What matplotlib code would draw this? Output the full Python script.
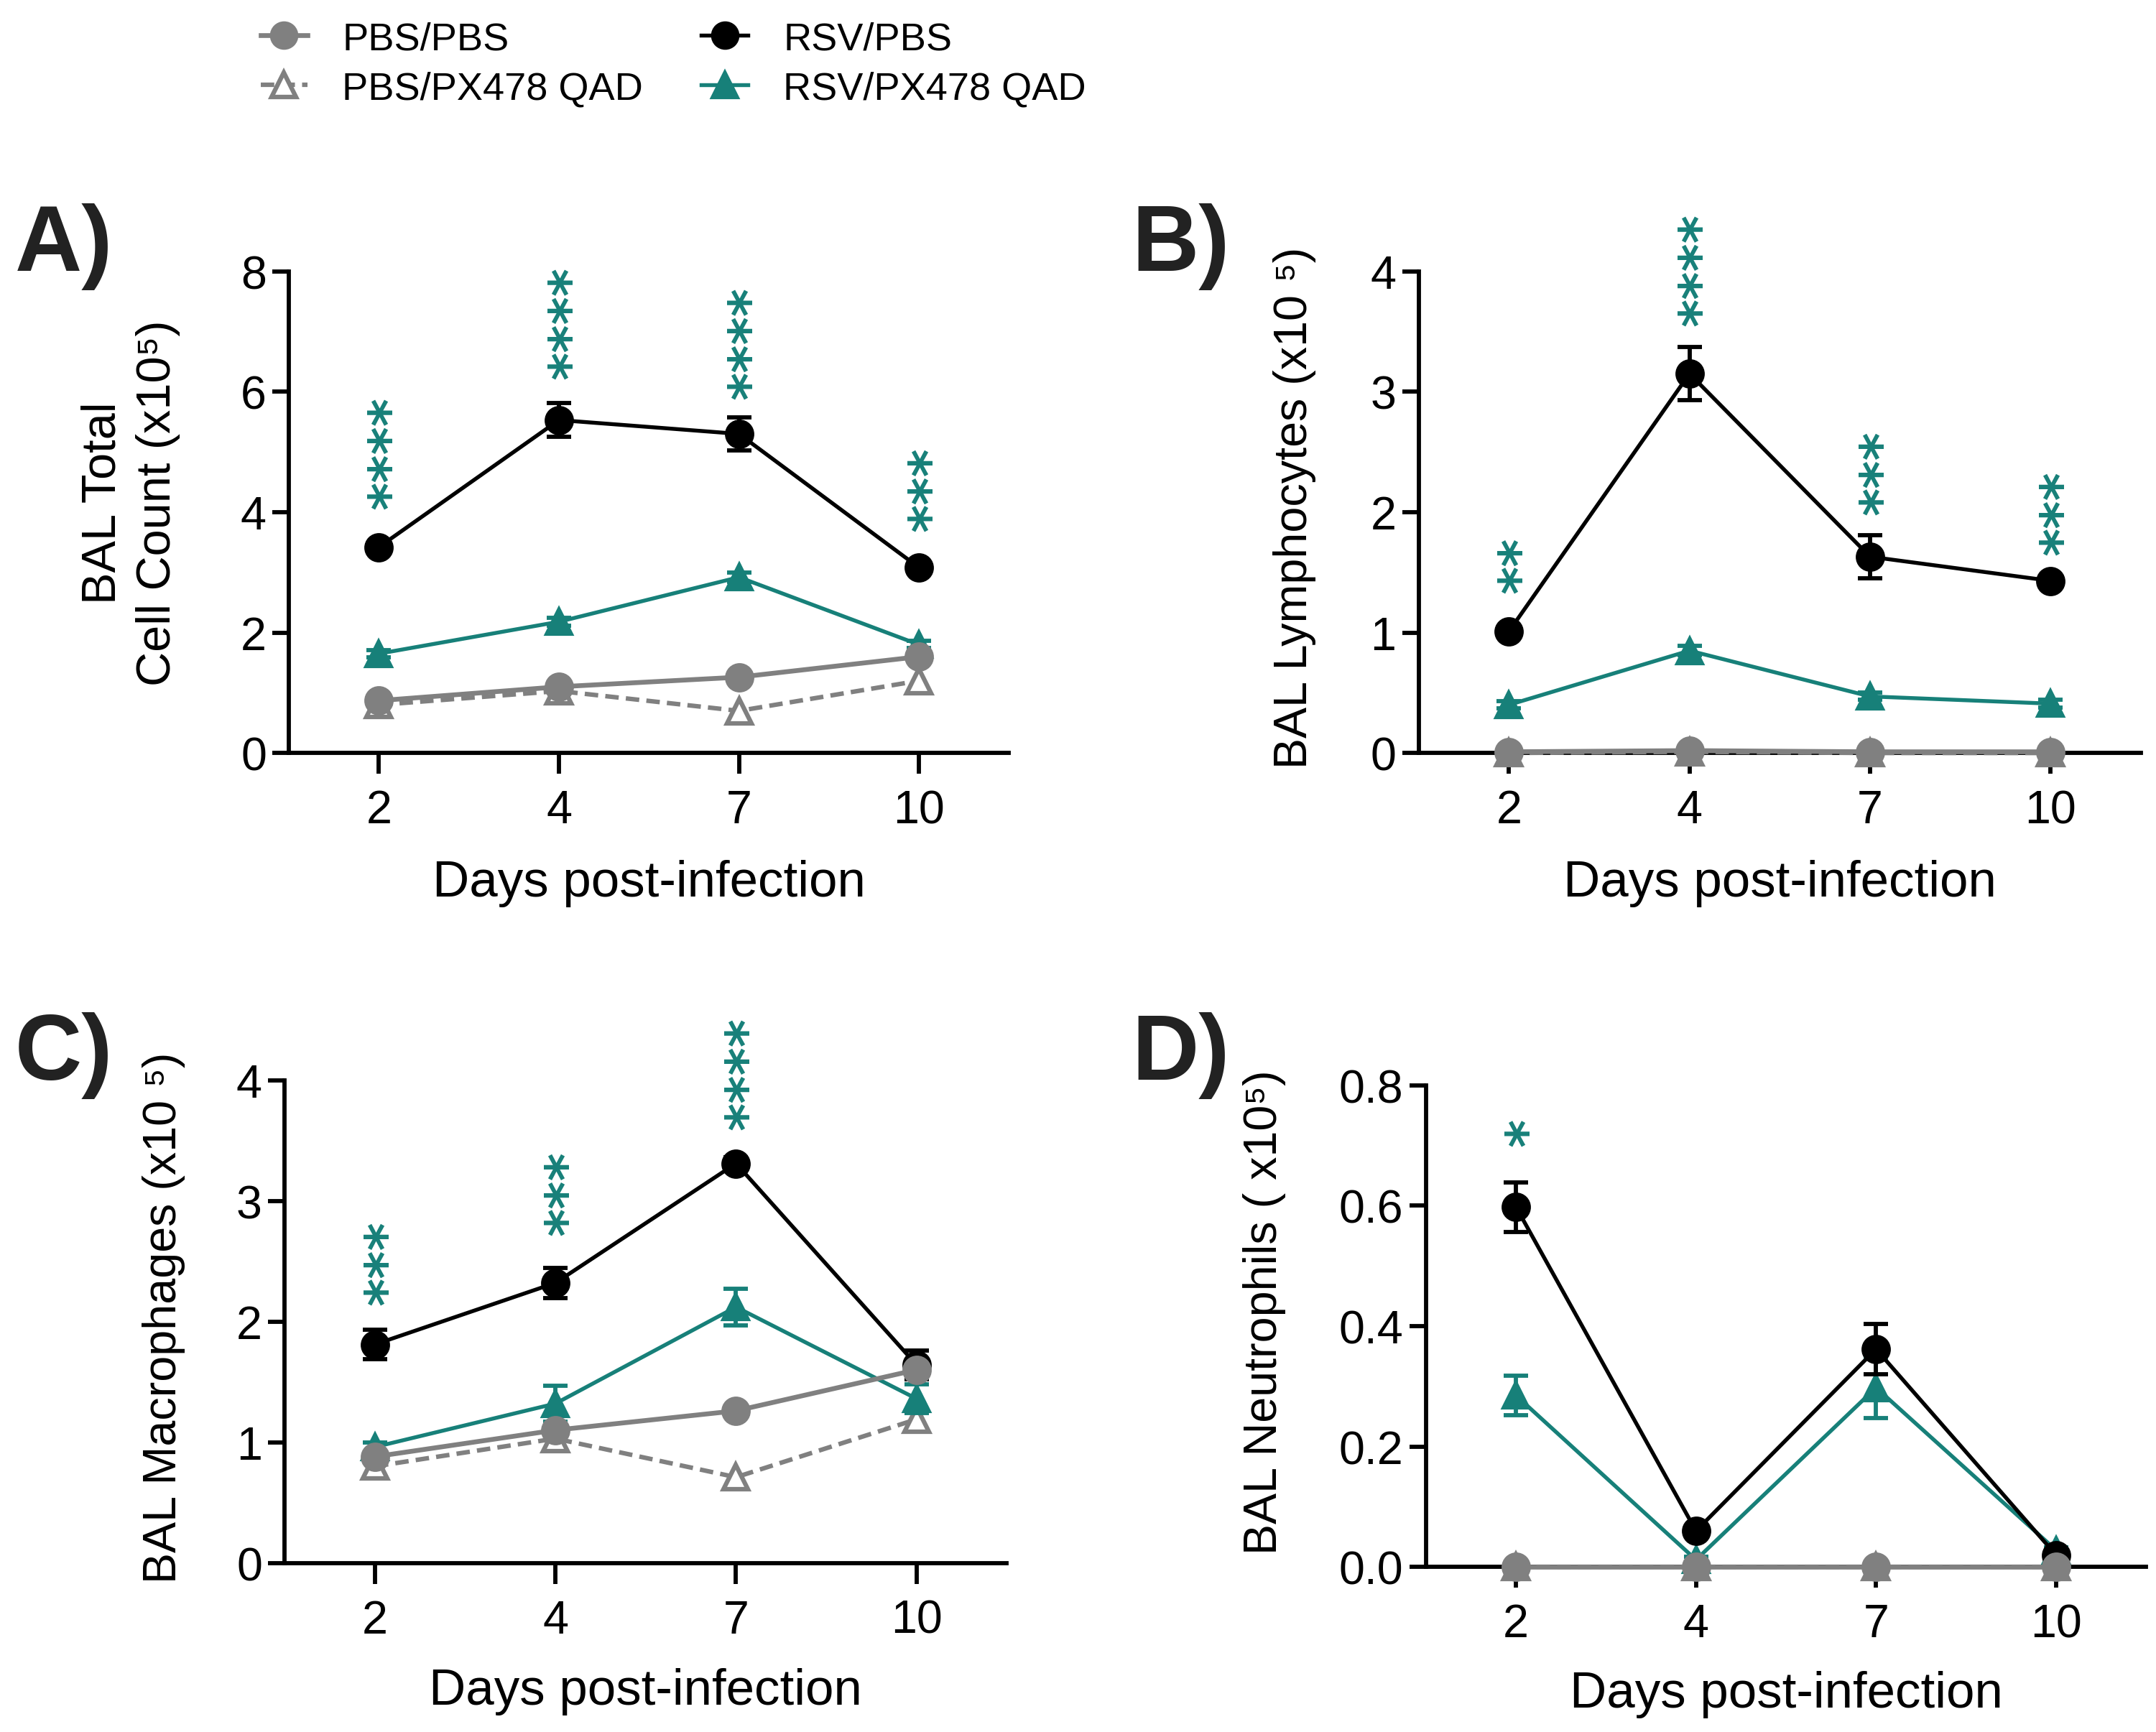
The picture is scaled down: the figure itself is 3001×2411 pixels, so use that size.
import numpy as np
import matplotlib
matplotlib.use('Agg')
import matplotlib.pyplot as plt
from matplotlib.lines import Line2D
import matplotlib.transforms as mtransforms

plt.rcParams['font.family'] = ['Liberation Sans', 'DejaVu Sans']

GRAY = '#808080'
TEAL = '#178079'

days = ['2', '4', '7', '10']

# A) total cell count
a_pbs_pbs = [0.87, 1.10, 1.26, 1.60]
a_pbs_px = [0.80, 1.03, 0.70, 1.20]
a_rsv_pbs = [3.42, 5.53, 5.30, 3.08]
a_rsv_pbs_err = [0.08, 0.28, 0.28, 0.08]
a_rsv_px = [1.65, 2.18, 2.92, 1.80]
a_rsv_px_err = [0.06, 0.06, 0.08, 0.06]
a_yticks = [0, 2, 4, 6, 8]
a_stars = ['****', '****', '****', '***']
a_star_y = [4.06, 6.22, 5.89, 3.69]

# B) lymphocytes
b_pbs_pbs = [0.01, 0.02, 0.01, 0.01]
b_pbs_px = [0.00, 0.01, 0.00, 0.00]
b_rsv_pbs = [1.01, 3.15, 1.63, 1.43]
b_rsv_pbs_err = [0.04, 0.22, 0.18, 0.04]
b_rsv_px = [0.40, 0.85, 0.47, 0.41]
b_rsv_px_err = [0.03, 0.04, 0.03, 0.03]
b_yticks = [0, 1, 2, 3, 4]
b_stars = ['**', '****', '***', '***']
b_star_y = [1.33, 3.55, 1.98, 1.65]

# C) macrophages
c_pbs_pbs = [0.88, 1.10, 1.26, 1.60]
c_pbs_px = [0.80, 1.03, 0.71, 1.19]
c_rsv_pbs = [1.81, 2.32, 3.31, 1.64]
c_rsv_pbs_err = [0.12, 0.125, 0.05, 0.12]
c_rsv_px = [0.96, 1.32, 2.12, 1.36]
c_rsv_px_err = [0.04, 0.15, 0.15, 0.12]
c_yticks = [0, 1, 2, 3, 4]
c_stars = ['***', '***', '****', '']
c_star_y = [2.14, 2.72, 3.59, 0]

# D) neutrophils
d_pbs_pbs = [0.0, 0.0, 0.0, 0.0]
d_pbs_px = [0.0, 0.0, 0.0, 0.0]
d_rsv_pbs = [0.598, 0.06, 0.362, 0.02]
d_rsv_pbs_err = [0.041, 0.008, 0.042, 0.005]
d_rsv_px = [0.285, 0.012, 0.298, 0.028]
d_rsv_px_err = [0.033, 0.005, 0.05, 0.005]
d_yticks = [0.0, 0.2, 0.4, 0.6, 0.8]
d_stars = ['*', '', '', '']
d_star_y = [0.70, 0, 0, 0]

fig = plt.figure(figsize=(3001 / 300, 2412 / 300), dpi=300)


def panel(rect, pbs_pbs, pbs_px, rsv_pbs, rsv_pbs_err, rsv_px, rsv_px_err,
          yticks, ylabel, stars, star_y, ylab_xy, xlab_y, ylab_size=15.5):
    ax = fig.add_axes(rect)
    x = np.arange(len(days))
    ax.plot(x, pbs_px, color=GRAY, ls=(0, (3, 1.6)), lw=1.5, marker='^', ms=8,
            mfc='white', mec=GRAY, mew=1.5, zorder=3, clip_on=False)
    ax.errorbar(x, rsv_px, yerr=rsv_px_err, color=TEAL, lw=1.3, marker='^', ms=8.5,
                capsize=4, capthick=1.4, elinewidth=1.4, zorder=4, clip_on=False)
    ax.errorbar(x, rsv_pbs, yerr=rsv_pbs_err, color='black', lw=1.3, marker='o', ms=8.8,
                capsize=4, capthick=1.4, elinewidth=1.4, zorder=5, clip_on=False)
    ax.plot(x, pbs_pbs, color=GRAY, lw=1.6, marker='o', ms=8.8, zorder=6, clip_on=False)

    ax.set_xlim(-0.5, 3.5)
    ax.set_ylim(yticks[0], yticks[-1])
    ax.set_xticks(x, days)
    ax.set_yticks(yticks)
    for s in ['top', 'right']:
        ax.spines[s].set_visible(False)
    for s in ['left', 'bottom']:
        ax.spines[s].set_linewidth(1.4)
    ax.tick_params(axis='x', length=7, width=1.4, pad=5, labelsize=15.5)
    ax.tick_params(axis='y', length=5.5, width=1.4, pad=2, labelsize=15.5)

    ax.set_ylabel(ylabel, fontsize=ylab_size, linespacing=1.3)
    ax.yaxis.set_label_coords(*ylab_xy)
    ax.set_xlabel('Days post-infection', fontsize=17)
    ax.xaxis.set_label_coords(0.5, xlab_y)

    # significance stars, stacked vertically
    shift = mtransforms.offset_copy(ax.transData, fig=fig, x=4.5, y=0, units='points')
    for i, (st, sy) in enumerate(zip(stars, star_y)):
        if st:
            ax.text(i, sy, st, rotation=90, ha='center', va='bottom', color=TEAL,
                    fontsize=18, fontweight='bold', family='DejaVu Sans',
                    transform=shift, clip_on=False)
    return ax


panel([0.134, 0.565, 0.334, 0.278], a_pbs_pbs, a_pbs_px, a_rsv_pbs, a_rsv_pbs_err,
      a_rsv_px, a_rsv_px_err, a_yticks, 'BAL Total\nCell Count (x10⁵)',
      a_stars, a_star_y, (-0.151, 0.52), -0.22, ylab_size=16)
panel([0.658, 0.565, 0.335, 0.278], b_pbs_pbs, b_pbs_px, b_rsv_pbs, b_rsv_pbs_err,
      b_rsv_px, b_rsv_px_err, b_yticks, 'BAL Lymphocytes (x10 ⁵)',
      b_stars, b_star_y, (-0.142, 0.51), -0.22)
panel([0.132, 0.0976, 0.335, 0.2786], c_pbs_pbs, c_pbs_px, c_rsv_pbs, c_rsv_pbs_err,
      c_rsv_px, c_rsv_px_err, c_yticks, 'BAL Macrophages (x10 ⁵)',
      c_stars, c_star_y, (-0.137, 0.51), -0.217)
panel([0.6614, 0.0952, 0.334, 0.278], d_pbs_pbs, d_pbs_px, d_rsv_pbs, d_rsv_pbs_err,
      d_rsv_px, d_rsv_px_err, d_yticks, 'BAL Neutrophils ( x10⁵)',
      d_stars, d_star_y, (-0.194, 0.53), -0.214)

# panel letters
for lx, ly, letter in [(0.007, 0.8437, 'A)'), (0.525, 0.8437, 'B)'),
                       (0.007, 0.377, 'C)'), (0.525, 0.377, 'D)')]:
    fig.text(lx, ly, letter, fontsize=31, fontweight='bold', color='#222222', va='baseline')

handles = [
    Line2D([], [], color=GRAY, lw=1.6, marker='o', ms=8.5),
    Line2D([], [], color=GRAY, ls=(0, (3, 1.6)), lw=1.5, marker='^', ms=8, mfc='white', mew=1.5),
    Line2D([], [], color='black', lw=1.3, marker='o', ms=8.5),
    Line2D([], [], color=TEAL, lw=1.3, marker='^', ms=8.5),
]
labels = ['PBS/PBS', 'PBS/PX478 QAD', 'RSV/PBS', 'RSV/PX478 QAD']
fig.legend(handles, labels, ncol=2, loc='upper left', bbox_to_anchor=(0.11, 1.001),
           frameon=False, fontsize=13, handlelength=1.2, handletextpad=0.9,
           columnspacing=1.5, labelspacing=0.35, borderaxespad=0.2)

fig.savefig('out.png', dpi=300)
